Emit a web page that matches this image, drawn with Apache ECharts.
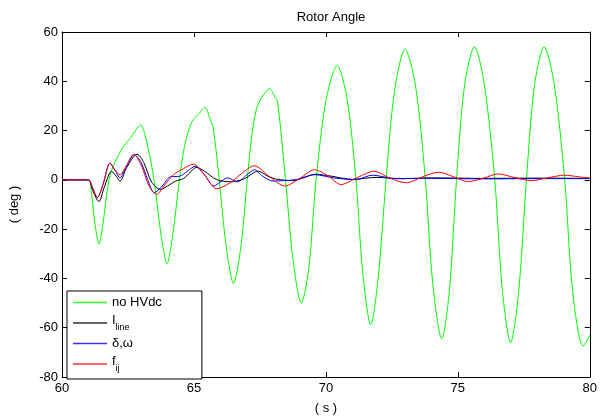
<!DOCTYPE html>
<html>
<head>
<meta charset="utf-8">
<script src="https://cdn.jsdelivr.net/npm/echarts@6/dist/echarts.min.js"></script>
<style>
  html, body { margin: 0; padding: 0; background: #fff; }
  #chart { width: 600px; height: 420px; }
</style>
</head>
<body>
<div id="chart"></div>
<script>
// [time (s), rotor angle (deg)]
const noHvdc = [[60,0],[61.0,0],[61.1,-4],[61.25,-18],[61.4,-26],[61.55,-18],[61.78,0],[62.0,7],[62.29,12.8],[62.66,18],[62.85,21],[62.98,22.4],[63.15,18],[63.41,5],[63.55,-5],[63.75,-22],[63.98,-34],[64.2,-22],[64.45,0],[64.65,14],[64.92,23.5],[65.2,27],[65.42,29.5],[65.6,25],[65.73,21],[65.96,0],[66.2,-25],[66.5,-42],[66.78,-27],[67.02,0],[67.18,16.8],[67.37,28.8],[67.6,34],[67.87,37],[68.05,34],[68.17,31.6],[68.47,0],[68.75,-32],[69.07,-50],[69.35,-36],[69.63,0],[70.0,32],[70.43,46.4],[70.8,33],[71.14,0],[71.4,-38],[71.7,-58.8],[71.98,-40],[72.28,0],[72.6,36],[73.0,53],[73.4,38],[73.77,0],[74.05,-42],[74.39,-64.5],[74.68,-45],[74.95,0],[75.25,38],[75.63,54],[76.0,39],[76.4,0],[76.68,-44],[77.0,-66],[77.3,-46],[77.6,0],[77.9,38],[78.27,54],[78.65,39],[79.05,0],[79.35,-45],[79.75,-67.5],[80,-63]]
const iLine = [[60,0],[61.0,0],[61.15,-4],[61.4,-8.8],[61.6,-3],[61.88,3.5],[62.05,1.5],[62.2,-0.5],[62.45,5],[62.85,10.4],[63.1,7],[63.4,-1],[63.73,-3.9],[64.0,-2.5],[64.3,-0.5],[64.6,0.5],[64.85,3],[65.1,5.1],[65.4,3.5],[65.86,0.1],[66.37,-0.8],[66.88,0.3],[67.43,3.5],[67.8,1.5],[68.12,0.3],[68.75,-0.3],[69.2,1],[69.6,2.3],[70.2,1.5],[71.0,0.2],[71.9,1.0],[72.8,0.5],[74,0.8],[76,0.6],[78,0.7],[80,0.6]]
const deltaOmega = [[60,0],[61.0,0],[61.15,-3],[61.34,-7.2],[61.55,-2],[61.82,6.8],[62.0,4],[62.2,0.8],[62.4,4.5],[62.75,10.2],[63.0,7],[63.25,0],[63.5,-5.2],[63.8,-2.5],[64.1,1.2],[64.47,1.5],[64.75,3.5],[65.05,5.5],[65.4,2],[65.76,-2.5],[66.0,-0.8],[66.27,0.8],[66.65,-0.8],[67.0,2],[67.3,4.1],[67.6,1.5],[68.0,-0.5],[68.4,-0.3],[68.88,0.1],[69.57,2.1],[70.3,0.8],[71.14,0.1],[71.76,1.9],[72.64,0.5],[74,0.6],[76,0.4],[78,0.5],[80,0.5]]
const fij = [[60,0],[61.0,0],[61.15,-3],[61.34,-7.2],[61.55,-2],[61.82,6.8],[62.0,4],[62.2,2.1],[62.4,5],[62.72,10.4],[63.0,6],[63.3,-2.5],[63.58,-5.9],[63.9,-2],[64.22,2.1],[64.6,4.5],[64.98,6.4],[65.4,2],[65.86,-3.6],[66.37,-1.2],[66.8,2.5],[67.28,5.7],[67.9,1],[68.44,-2.5],[69.0,0.5],[69.57,4.1],[70.1,1.5],[70.57,-1.9],[71.2,1],[71.83,3.5],[72.4,0.8],[73.05,-1.2],[73.65,1.2],[74.27,3.1],[74.85,1.2],[75.4,-0.7],[76.0,0.8],[76.53,2.4],[77.2,0.8],[77.79,-0.3],[78.4,0.8],[79.05,1.9],[79.6,1.2],[80,0.8]]

const seriesNames = ['no HVdc', 'I_line', 'δ,ω', 'f_ij']
const seriesColors = ['#00ff00', '#000000', '#0000ff', '#ff0000']
const legendLabels = {
  'no HVdc': '{m|no HVdc}',
  'I_line': '{m|I}{s|line}',
  'δ,ω': '{m|δ,ω}',
  'f_ij': '{m|f}{s|ij}'
}

const myChart = echarts.init(document.getElementById('chart'))
const font = 'Liberation Sans, Arial, sans-serif'
const tickLen = 5

const mkLine = (name, data, color) => ({
  name: name,
  type: 'line',
  data: data,
  symbol: 'none',
  smooth: 0.3,
  lineStyle: { color: color, width: 1 },
  itemStyle: { color: color },
  animation: false
})

let option = {
  backgroundColor: '#fff',
  textStyle: { fontFamily: font },
  title: {
    text: 'Rotor Angle',
    left: 326,
    textAlign: 'center',
    top: 6,
    textStyle: { fontSize: 13, fontWeight: 'normal', color: '#000', fontFamily: font }
  },
  grid: { left: 61, right: 8, top: 32, bottom: 38, show: false },
  legend: {
    data: seriesNames.map((n, i) => ({
      name: n,
      icon: 'rect',
      itemStyle: { color: seriesColors[i], opacity: 0.8, borderWidth: 0 }
    })),
    orient: 'vertical',
    left: 67,
    top: 291,
    itemWidth: 34,
    itemHeight: 1.5,
    itemGap: 5,
    padding: [5, 40, 6, 6],
    borderColor: '#000',
    borderWidth: 1,
    backgroundColor: '#fff',
    borderRadius: 0,
    formatter: (name) => legendLabels[name],
    textStyle: {
      color: '#000',
      fontSize: 13,
      fontFamily: font,
      rich: {
        m: { fontSize: 13, fontFamily: font, verticalAlign: 'top', color: '#000' },
        s: { fontSize: 9, fontFamily: font, padding: [9, 0, 0, 0], verticalAlign: 'bottom', color: '#000' }
      }
    }
  },
  xAxis: [
    {
      type: 'value', min: 60, max: 80, interval: 5,
      name: '( s )', nameLocation: 'middle', nameGap: 25,
      nameTextStyle: { fontSize: 13, color: '#000', fontFamily: font },
      axisLine: { show: true, onZero: false, lineStyle: { color: '#000', width: 1 } },
      axisTick: { inside: true, length: tickLen, lineStyle: { color: '#000' } },
      axisLabel: { color: '#000', fontSize: 13, margin: 5, fontFamily: font },
      splitLine: { show: false }
    },
    {
      type: 'value', min: 60, max: 80, interval: 5, position: 'top',
      axisLine: { show: true, onZero: false, lineStyle: { color: '#000', width: 1 } },
      axisTick: { inside: true, length: tickLen, lineStyle: { color: '#000' } },
      axisLabel: { show: false },
      splitLine: { show: false }
    }
  ],
  yAxis: [
    {
      type: 'value', min: -80, max: 60, interval: 20,
      name: '( deg )', nameLocation: 'middle', nameGap: 41,
      nameTextStyle: { fontSize: 13, color: '#000', fontFamily: font },
      axisLine: { show: true, onZero: false, lineStyle: { color: '#000', width: 1 } },
      axisTick: { show: true, inside: true, length: tickLen, lineStyle: { color: '#000' } },
      axisLabel: { color: '#000', fontSize: 13, margin: 4, fontFamily: font },
      splitLine: { show: false }
    },
    {
      type: 'value', min: -80, max: 60, interval: 20, position: 'right',
      axisLine: { show: true, onZero: false, lineStyle: { color: '#000', width: 1 } },
      axisTick: { show: true, inside: true, length: tickLen, lineStyle: { color: '#000' } },
      axisLabel: { show: false },
      splitLine: { show: false }
    }
  ],
  series: seriesNames.map((n, i) => mkLine(n, [noHvdc, iLine, deltaOmega, fij][i], seriesColors[i]))
}
myChart.setOption(option)
</script>
</body>
</html>
